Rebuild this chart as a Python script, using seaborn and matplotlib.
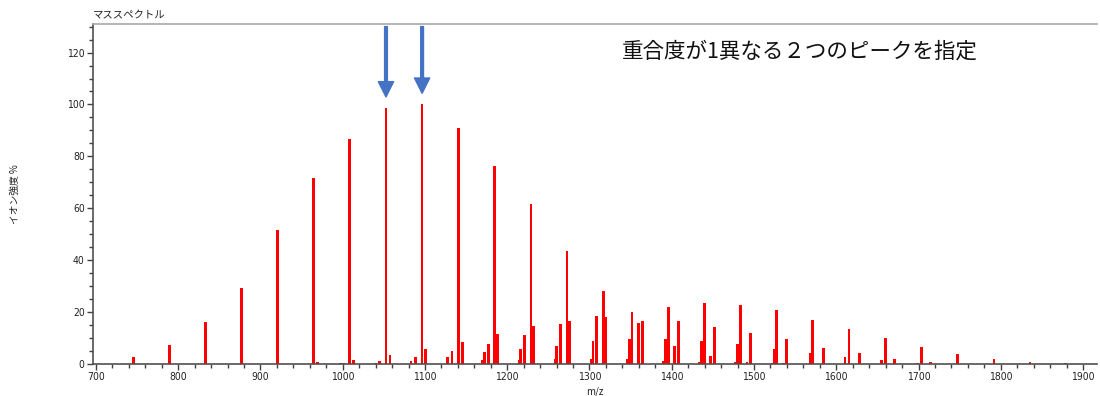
import numpy as np
import pandas as pd
import matplotlib
matplotlib.use('Agg')
import matplotlib.pyplot as plt
from matplotlib.ticker import MultipleLocator
import seaborn as sns

# ピーク位置 (m/z) と強度 (%)
mz = [745.4, 789.6, 832.9, 876.7, 920.4, 964.2, 969.0, 997.5, 1001.0,
      1008.6, 1012.9, 1040.0, 1044.5, 1052.6, 1057.4, 1083.0, 1088.7,
      1096.5, 1101.0, 1127.0, 1132.8, 1140.3, 1145.4, 1169.3, 1172.0,
      1177.0, 1184.3, 1188.0, 1214.3, 1216.3, 1220.7, 1228.9, 1231.7,
      1258.0, 1260.0, 1264.5, 1272.6, 1275.5, 1301.8, 1304.3, 1308.7,
      1316.8, 1320.0, 1346.0, 1348.4, 1351.7, 1359.3, 1364.2, 1389.8,
      1392.2, 1395.8, 1403.0, 1408.0, 1433.5, 1436.0, 1439.6, 1447.3,
      1452.2, 1477.7, 1480.0, 1483.3, 1491.5, 1495.8, 1521.9, 1524.3,
      1527.5, 1535.6, 1539.6, 1568.0, 1571.3, 1584.3, 1610.6, 1615.5,
      1628.0, 1654.8, 1659.6, 1670.6, 1698.6, 1703.4, 1714.8, 1747.2,
      1791.8, 1835.6, 1878.5]
intensity = [2.6, 7.3, 16.2, 29.4, 51.5, 71.6, 0.6, 0.4, 0.4,
             86.7, 1.7, 0.4, 1.0, 98.6, 3.5, 1.3, 2.7,
             100.0, 5.7, 2.6, 4.9, 91.1, 8.5, 1.7, 4.5,
             7.8, 76.4, 11.4, 1.6, 5.6, 11.0, 61.5, 14.5,
             1.9, 7.0, 15.4, 43.5, 16.7, 1.9, 8.9, 18.6,
             28.0, 18.1, 1.9, 9.6, 20.0, 15.8, 16.7, 1.3,
             9.6, 22.0, 7.0, 16.4, 0.9, 8.7, 23.6, 3.2,
             14.2, 0.6, 7.8, 22.9, 0.8, 11.8, 0.4, 5.9,
             20.8, 0.5, 9.6, 4.3, 17.1, 6.0, 2.8, 13.6,
             4.3, 1.7, 10.1, 2.0, 0.5, 6.4, 0.8, 3.9,
             2.0, 0.8, 0.5]

title = 'マススペクトル'
note = '重合度が1異なる２つのピークを指定'

df = pd.DataFrame({'mz': mz, 'intensity': intensity})

sns.set_theme(style='white')
plt.rcParams['font.family'] = ['Noto Sans CJK JP', 'DejaVu Sans']

fig = plt.figure(figsize=(11, 3.96), dpi=100)
ax = fig.add_axes([93 / 1100, 1 - 364 / 396, 1004 / 1100, 340 / 396])

# native_scale の時の幅はピーク間隔の最小値に対する比率
bar_w = 3.4 / np.diff(np.sort(df['mz'].values)).min()
sns.barplot(data=df, x='mz', y='intensity', native_scale=True, width=bar_w,
            color='#FF0000', saturation=1, errorbar=None, linewidth=0, ax=ax)

ax.set_xlim(696.4, 1917)
ax.set_ylim(0, 131)
ax.xaxis.set_major_locator(MultipleLocator(100))
ax.xaxis.set_minor_locator(MultipleLocator(20))
ax.yaxis.set_major_locator(MultipleLocator(20))
ax.yaxis.set_minor_locator(MultipleLocator(5))

for s in ['left', 'bottom']:
    ax.spines[s].set_color('#505050')
    ax.spines[s].set_linewidth(1.2)
ax.spines['top'].set_color('#a8a8a8')
ax.spines['top'].set_linewidth(1.2)
ax.spines['right'].set_visible(False)

ax.tick_params(which='major', direction='out', length=4, width=1, color='#404040',
               labelsize=7.5, labelcolor='#222222', pad=2,
               bottom=True, left=True)
ax.tick_params(which='minor', direction='out', length=3, width=1, color='#404040',
               bottom=True, left=True)
for lab in ax.get_xticklabels() + ax.get_yticklabels():
    lab.set_family('DejaVu Sans')
    lab.set_stretch('condensed')

ax.set_xlabel('m/z', fontsize=7, color='#222222', labelpad=3)
ax.set_ylabel('イオン強度 %', fontsize=7, color='#222222')
ax.yaxis.set_label_coords(-0.073, 0.5)
ax.set_title(title, loc='left', fontsize=7.5, color='#222222', pad=4)

# 矢印: 上位2ピーク
top2 = df.nlargest(2, 'intensity').sort_values('mz')
for _, r in top2.iterrows():
    ax.annotate('', xy=(r['mz'], r['intensity'] + 4.3), xytext=(r['mz'], 130),
                annotation_clip=False,
                arrowprops=dict(facecolor='#4472C4', edgecolor='#4472C4',
                                width=2.0, headwidth=11, headlength=11, shrink=0))

fig.text(622 / 1100, 1 - 52 / 396, note, fontsize=15.5, color='#111111',
         va='center', ha='left')

fig.savefig('out.png', dpi=100, facecolor='white')
